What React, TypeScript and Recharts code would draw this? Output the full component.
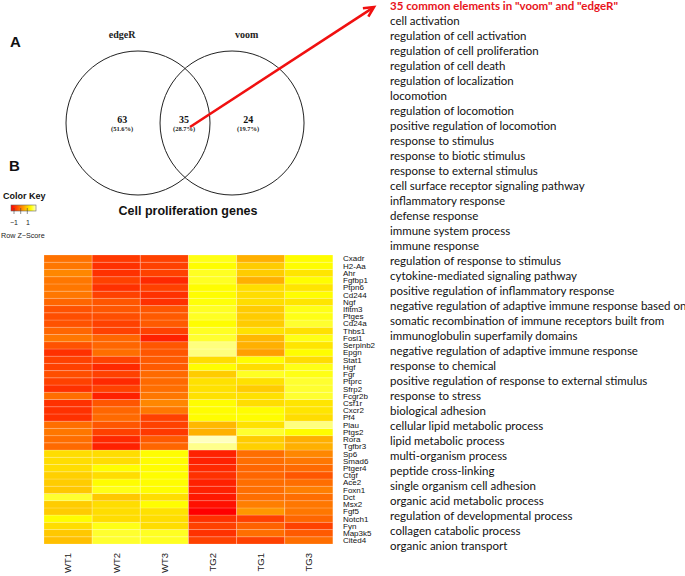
import React from "react";
import { BarChart, Bar, Cell, XAxis, YAxis, ScatterChart, Scatter } from "recharts";

const samples = ["WT1", "WT2", "WT3", "TG2", "TG1", "TG3"];

const genes = [
  "Cxadr", "H2-Aa", "Ahr", "Fgfbp1", "Ptpn6", "Cd244", "Ngf", "Ifitm3", "Ptges", "Cd24a",
  "Thbs1", "Fosl1", "Serpinb2", "Epgn", "Stat1", "Hgf", "Fgr", "Ptprc", "Sfrp2", "Fcgr2b",
  "Csf1r", "Cxcr2", "Pf4", "Plau", "Ptgs2", "Rora", "Tgfbr3", "Sp6", "Smad6", "Ptger4",
  "Ctgf", "Ace2", "Foxn1", "Dct", "Msx2", "Fgf5", "Notch1", "Fyn", "Map3k5", "Cited4"
];

// row z-scores per sample column, gene order as above
const wt1 = [
  -0.2, -0.15, 0.05, -0.15, -0.15, -0.15, -0.35, -0.6, -0.65, -0.6,
  -0.35, -0.15, -0.6, -1.0, -0.8, -0.8, -0.65, -0.8, -1.0, -0.25,
  -1.0, -1.0, -1.0, -0.25, -0.15, -0.25, -0.3, 1.1, 1.1, 1.1,
  0.95, 0.9, 0.85, 1.7, 0.9, 0.9, 1.5, 1.1, 0.85, 0.75
];
const wt2 = [
  -0.9, -1.0, -1.0, -0.8, -1.0, -0.8, -0.55, -0.55, -0.65, -0.8,
  -0.8, -0.35, -0.35, -0.25, -0.8, -1.1, -0.8, -1.1, -0.8, -1.2,
  -0.55, -0.35, -0.3, -0.55, -0.8, -1.1, -1.2, 1.1, 1.1, 1.5,
  1.1, 1.5, 1.6, 0.85, 1.1, 1.1, 1.1, 1.6, 1.7, 1.7
];
const wt3 = [
  -0.8, -0.8, -0.8, -1.1, -0.8, -1.0, -1.0, -0.55, -0.5, -0.5,
  -0.8, -1.2, -0.55, -0.55, -0.5, -0.5, -0.3, -0.3, -0.25, -0.15,
  0.05, -0.15, -0.8, -0.8, -0.9, -0.5, -0.35, 1.5, 1.5, 1.5,
  1.5, 1.5, 1.5, 1.1, 1.5, 1.15, 1.1, 1.1, 1.65, 1.65
];
const tg2 = [
  1.6, 1.5, 1.65, 1.65, 1.5, 1.5, 1.55, 1.65, 1.65, 1.5,
  1.65, 1.7, 2.0, 2.0, 1.1, 1.5, 0.9, 1.15, 1.15, 1.15,
  1.5, 1.5, 1.5, 0.65, 0.55, 2.25, 2.05, -1.2, -1.2, -1.1,
  -1.0, -1.2, -1.2, -1.3, -1.4, -1.6, -1.0, -0.8, -1.0, -0.8
];
const tg1 = [
  0.55, 0.9, 0.9, 0.55, 1.1, 1.1, 1.1, 0.9, 0.9, 0.9,
  1.15, 0.65, 0.55, 0.35, 1.5, 1.1, 1.65, 1.15, 0.9, 1.15,
  1.1, 1.5, 1.5, 1.15, 1.7, 0.9, 0.95, -0.25, -0.25, -0.35,
  -0.35, -0.25, -0.25, -0.25, -0.05, 0.25, -0.8, -0.4, -0.25, -0.8
];
const tg3 = [
  1.5, 1.5, 1.2, 1.5, 1.2, 1.5, 1.2, 1.6, 1.6, 1.7,
  1.15, 1.6, 1.2, 1.5, 1.1, 1.6, 1.6, 1.7, 1.7, 1.7,
  1.2, 1.2, 1.1, 2.0, 1.5, 0.55, 0.55, 0.05, -0.15, -0.3,
  -0.55, -0.25, -0.05, -0.25, -0.15, -0.15, -0.35, -0.8, -0.5, -0.25
];
const columns = [wt1, wt2, wt3, tg2, tg1, tg3];

const vennSets = ["edgeR", "voom"];
const vennCounts = [63, 35, 24];
const vennPercents = ["51.6%", "28.7%", "19.7%"];

const listTitle = '35 common elements in "voom" and "edgeR"';
const goTerms = [
  "cell activation",
  "regulation of cell activation",
  "regulation of cell proliferation",
  "regulation of cell death",
  "regulation of localization",
  "locomotion",
  "regulation of locomotion",
  "positive regulation of locomotion",
  "response to stimulus",
  "response to biotic stimulus",
  "response to external stimulus",
  "cell surface receptor signaling pathway",
  "inflammatory response",
  "defense response",
  "immune system process",
  "immune response",
  "regulation of response to stimulus",
  "cytokine-mediated signaling pathway",
  "positive regulation of inflammatory response",
  "negative regulation of adaptive immune response based on",
  "somatic recombination of immune receptors built from",
  "immunoglobulin superfamily domains",
  "negative regulation of adaptive immune response",
  "response to chemical",
  "positive regulation of response to external stimulus",
  "response to stress",
  "biological adhesion",
  "cellular lipid metabolic process",
  "lipid metabolic process",
  "multi-organism process",
  "peptide cross-linking",
  "single organism cell adhesion",
  "organic acid metabolic process",
  "regulation of developmental process",
  "collagen catabolic process",
  "organic anion transport"
];

// heat colours: red -> orange -> yellow -> pale yellow
const Z_MIN = -1.6;
const Z_MAX = 2.3;
function heatColor(z: number) {
  const t = Math.max(0, Math.min(1, (z - Z_MIN) / (Z_MAX - Z_MIN)));
  if (t <= 0.8) {
    const g = Math.round((t / 0.8) * 255);
    return `rgb(255,${g},0)`;
  }
  const b = Math.round(((t - 0.8) / 0.2) * 204);
  return `rgb(255,255,${b})`;
}

const heatData = samples.map((s) => {
  const row: Record<string, any> = { sample: s };
  genes.forEach((g) => (row[g] = 1));
  return row;
});

const SampleTick = (props: any) => {
  const { x, y, payload } = props;
  const ty = y + 1;
  return (
    <text
      x={x}
      y={ty}
      dy="0.35em"
      transform={`rotate(-90, ${x}, ${ty})`}
      textAnchor="end"
      fontSize={9.5}
      fontFamily="Liberation Sans, Arial, sans-serif"
      fill="#222"
    >
      {payload.value}
    </text>
  );
};

function Heatmap() {
  const stackOrder = [...genes].reverse(); // first bar sits at the bottom
  return (
    <BarChart
      width={400}
      height={336}
      data={heatData}
      margin={{ top: 15, right: 7, bottom: 0, left: 44 }}
      barCategoryGap={0}
    >
      <XAxis
        dataKey="sample"
        type="category"
        interval={0}
        tickLine={false}
        axisLine={false}
        height={32}
        tick={<SampleTick />}
      />
      <YAxis
        orientation="right"
        type="number"
        domain={[0, genes.length]}
        ticks={genes.map((_, j) => genes.length - j - 0.5)}
        tickFormatter={(v: number) => genes[Math.round(genes.length - 0.5 - v)]}
        interval={0}
        width={60}
        tickLine={false}
        axisLine={false}
        tickMargin={4}
        tick={{ fontSize: 8, fill: "#111", fontFamily: "Liberation Sans, Arial, sans-serif" }}
      />
      {stackOrder.map((g) => {
        const gi = genes.indexOf(g);
        return (
          <Bar
            key={g}
            dataKey={g}
            stackId="heat"
            isAnimationActive={false}
            stroke="#ffffff"
            strokeOpacity={0.3}
            strokeWidth={0.6}
          >
            {samples.map((s, si) => (
              <Cell key={s} fill={heatColor(columns[si][gi])} />
            ))}
          </Bar>
        );
      })}
    </BarChart>
  );
}

// Venn in circle-radius units (1 unit = 72px)
const UNIT = 72;
const circleData = vennSets.map((name, i) => ({ x: i * 1.306, y: 0, name }));
const setLabelData = vennSets.map((name, i) => ({ x: i === 0 ? -0.22 : 1.51, y: 1.22, name }));
const regionData = vennCounts.map((count, i) => ({
  x: [-0.22, 0.64, 1.53][i],
  y: 0,
  count,
  pct: vennPercents[i]
}));

function Venn() {
  const serif = "Liberation Serif, Times New Roman, serif";
  return (
    <ScatterChart width={380} height={230} margin={{ top: 0, right: 0, bottom: 0, left: 0 }}>
      <XAxis type="number" dataKey="x" hide domain={[-138 / UNIT, 242 / UNIT]} />
      <YAxis type="number" dataKey="y" hide domain={[-107 / UNIT, 123 / UNIT]} />
      <Scatter
        data={circleData}
        isAnimationActive={false}
        shape={(p: any) => (
          <circle cx={p.cx} cy={p.cy} r={UNIT} fill="none" stroke="#222" strokeWidth={1} />
        )}
      />
      <Scatter
        data={setLabelData}
        isAnimationActive={false}
        shape={(p: any) => (
          <text x={p.cx} y={p.cy} dy={3} textAnchor="middle" fontSize={10} fontWeight="bold" fontFamily={serif} fill="#222">
            {p.payload.name}
          </text>
        )}
      />
      <Scatter
        data={regionData}
        isAnimationActive={false}
        shape={(p: any) => (
          <g>
            <text x={p.cx} y={p.cy} textAnchor="middle" fontSize={10} fontWeight="bold" fontFamily={serif} fill="#111">
              {p.payload.count}
            </text>
            <text x={p.cx} y={p.cy + 8} textAnchor="middle" fontSize={6.5} fontWeight="bold" fontFamily={serif} fill="#222">
              ({p.payload.pct})
            </text>
          </g>
        )}
      />
    </ScatterChart>
  );
}

function Overlay() {
  const sans = "Liberation Sans, Arial, sans-serif";
  const listFont = "Lato, Open Sans, sans-serif";
  const tip = { x: 374, y: 7 };
  const start = { x: 190, y: 127 };
  const dx = tip.x - start.x;
  const dy = tip.y - start.y;
  const len = Math.hypot(dx, dy);
  const ux = dx / len;
  const uy = dy / len;
  const bx = tip.x - 10 * ux;
  const by = tip.y - 10 * uy;
  const w1 = `${bx + 5 * -uy},${by + 5 * ux}`;
  const w2 = `${bx - 5 * -uy},${by - 5 * ux}`;
  return (
    <svg width={685} height={576} style={{ position: "absolute", left: 0, top: 0, pointerEvents: "none" }}>
      <defs>
        <linearGradient id="heatKey" x1="0" x2="1" y1="0" y2="0">
          <stop offset="0" stopColor="#ff0000" />
          <stop offset="0.8" stopColor="#ffff00" />
          <stop offset="1" stopColor="#ffffcc" />
        </linearGradient>
      </defs>
      <text x={10} y={47} fontSize={15} fontWeight="bold" fontFamily={sans} fill="#111">A</text>
      <text x={9} y={171} fontSize={15} fontWeight="bold" fontFamily={sans} fill="#111">B</text>
      <text x={188} y={215} textAnchor="middle" fontSize={12.5} fontWeight="bold" fontFamily={sans} fill="#111">
        Cell proliferation genes
      </text>

      {/* colour key */}
      <text x={3} y={199} fontSize={9} fontWeight="bold" fontFamily={sans} fill="#111">Color Key</text>
      <rect x={11} y={205} width={25} height={6} fill="url(#heatKey)" stroke="#666" strokeWidth={0.6} />
      {[14, 20.7, 27.3].map((tx) => (
        <line key={tx} x1={tx} x2={tx} y1={208} y2={214} stroke="#444" strokeWidth={0.6} />
      ))}
      <text x={14} y={225} textAnchor="middle" fontSize={7} fontFamily={sans} fill="#222">−1</text>
      <text x={28} y={225} textAnchor="middle" fontSize={7} fontFamily={sans} fill="#222">1</text>
      <text x={1} y={238} fontSize={7.2} fontFamily={sans} fill="#222">Row Z−Score</text>

      {/* arrow */}
      <line x1={start.x} y1={start.y} x2={tip.x - 1.5 * ux} y2={tip.y - 1.5 * uy} stroke="#f01010" strokeWidth={2.6} />
      <polyline points={`${w1} ${tip.x},${tip.y} ${w2}`} fill="none" stroke="#f01010" strokeWidth={2.6} strokeLinejoin="miter" />

      {/* GO term list */}
      <text x={390} y={10} fontSize={11.5} fontWeight="bold" fontFamily={listFont} fill="#e8141b">
        {listTitle}
      </text>
      {goTerms.map((t, i) => (
        <text key={t} x={390} y={25 + i * 15} fontSize={11.5} fontFamily={listFont} fill="#111">
          {t}
        </text>
      ))}
    </svg>
  );
}

export default function App() {
  return (
    <div style={{ position: "absolute", left: 0, top: 0, width: 685, height: 576, background: "#fff", overflow: "hidden" }}>
      <div style={{ position: "absolute", left: 0, top: 0 }}>
        <Venn />
      </div>
      <div style={{ position: "absolute", left: 0, top: 240 }}>
        <Heatmap />
      </div>
      <Overlay />
    </div>
  );
}
